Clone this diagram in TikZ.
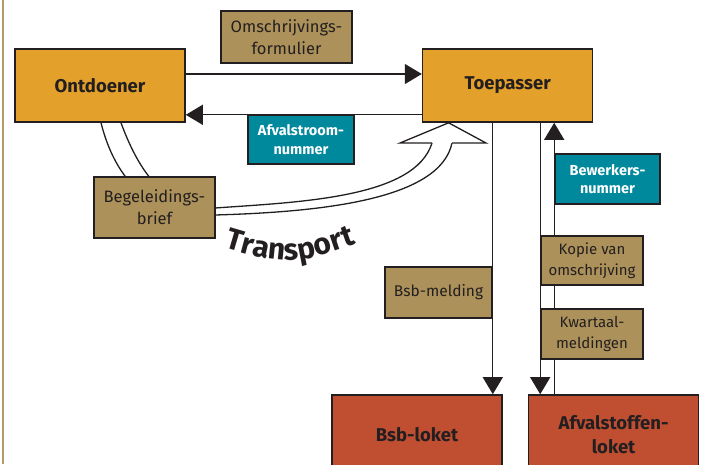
\documentclass[tikz,border=0pt]{standalone}
\usepackage{fontspec}
\setmainfont{Fira Sans}
\usepackage{xcolor}
\usetikzlibrary{arrows.meta, positioning, backgrounds, decorations.text}

\definecolor{ink}{HTML}{231F20}
\definecolor{oranje}{HTML}{E3A02A}
\definecolor{zand}{HTML}{AD915A}
\definecolor{petrol}{HTML}{00889C}
\definecolor{steen}{HTML}{C04E31}
\definecolor{rand}{HTML}{B49B68}

\begin{document}
\begin{tikzpicture}[
    x=1pt, y=-1pt,
    box/.style={rectangle, draw=ink, line width=1.6pt, align=center, inner sep=2pt, fill=#1},
    partybox/.style={box=oranje, minimum width=170pt, minimum height=73pt, text=ink, font=\bfseries\fontsize{18.5}{22}\selectfont},
    docbox/.style={box=zand, text=ink, font=\fontsize{15}{20.5}\selectfont},
    bigdoc/.style={docbox, font=\fontsize{16.5}{22}\selectfont},
    nrbox/.style={box=petrol, text=white, font=\bfseries\fontsize{14.5}{18.5}\selectfont},
    loketbox/.style={box=steen, minimum width=170pt, minimum height=80pt, text=ink, font=\bfseries\fontsize{18.5}{24}\selectfont},
    flow/.style={draw=ink, line width=1.3pt, -{Triangle[length=17pt, width=20pt]}},
    shaft/.style={draw=ink, line width=1.3pt, line join=miter}
]
\useasboundingbox (0,0) rectangle (706,464);
\clip (0,0) rectangle (706,464);
\draw[rand, line width=2.2pt] (3,0) -- (3,464);

\node[partybox] (ontdoener) at (100,85.5) {Ontdoener};
\node[partybox, right=236pt of ontdoener] (toepasser) {Toepasser};
\node[bigdoc, minimum width=131pt, minimum height=52pt] (formulier) at (286.5,37) {Omschrijvings-\\formulier};
\node[nrbox, minimum width=106pt, minimum height=49pt] (stroomnr) at (301,139.5) {Afvalstroom-\\nummer};
\node[bigdoc, minimum width=121pt, minimum height=61pt] (brief) at (154.5,207.5) {Begeleidings-\\brief};
\node[nrbox, minimum width=105pt, minimum height=50pt] (bewerkersnr) at (607.5,179) {Bewerkers-\\nummer};
\node[docbox, minimum width=102pt, minimum height=49pt] (kopie) at (592,260.5) {Kopie van\\omschrijving};
\node[docbox, minimum width=102pt, minimum height=50pt] (kwartaal) at (592,334) {Kwartaal-\\meldingen};
\node[docbox, minimum width=107pt, minimum height=51pt, font=\fontsize{15.5}{20}\selectfont] (melding) at (438.5,292.5) {Bsb-melding};
\node[loketbox] (bsbloket) at (417,435) {Bsb-loket};
\node[loketbox, right=25pt of bsbloket] (afvalloket) {Afvalstoffen-\\loket};

\begin{scope}[on background layer]
  \draw[flow] ([yshift=11.5pt]ontdoener.east) -- ([yshift=11.5pt]toepasser.west);
  \draw[flow] ([yshift=8pt]toepasser.south west) -- ([yshift=8pt]ontdoener.south east);
  \draw[flow] (toepasser.south -| melding.east) -- (bsbloket.north -| melding.east);
  \draw[flow] (toepasser.south -| kopie.west) -- (afvalloket.north -| kopie.west);
  \draw[flow] (afvalloket.north -| bewerkersnr.west) -- (toepasser.south -| bewerkersnr.west);
  % transport arrow
  \coordinate (tA) at ([xshift=1pt]ontdoener.south);
  \coordinate (tB) at ([xshift=21pt]ontdoener.south);
  \coordinate (tip) at ([xshift=-59pt]toepasser.south);
  \fill[white] (tA) .. controls (118,190) and (160,218) .. (215,215) .. controls (320,212) and (440,200) .. (452,143)
    -- (432,143) .. controls (415,198) and (300,202) .. (215,208) .. controls (170,210) and (142,180) .. (tB) -- cycle;
  \draw[shaft] (tA) .. controls (118,190) and (160,218) .. (215,215) .. controls (320,212) and (440,200) .. (452,143);
  \draw[shaft] (tB) .. controls (142,180) and (170,210) .. (215,208) .. controls (300,202) and (415,198) .. (432,143);
  \fill[white] (400,143) -- (tip) -- (486,143) -- cycle;
  \draw[shaft] (432,143) -- (400,143) -- (tip) -- (486,143) -- (452,143);
\end{scope}
\path[decorate, decoration={text along path, text color=ink, text align=center,
    text={|\bfseries\fontsize{30}{34}\selectfont|Transport}}] (200,240) .. controls (290,268) .. (380,235);
\end{tikzpicture}
\end{document}
